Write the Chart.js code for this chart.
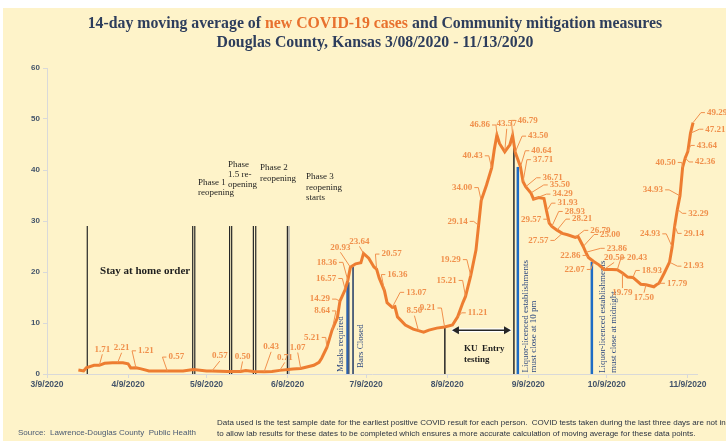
<!DOCTYPE html>
<html lang="en">
    <head>
        <meta charset="utf-8">
        <title> Douglas County COVID-19 14-day average </title>
        <script src="https://cdn.jsdelivr.net/npm/chart.js"></script>
        <style>
            * { box-sizing: border-box; }
            body {
                margin: 0;
                background: #ffffff;
            }
            #wrap {
                position: relative;
                width: 726px;
                height: 441px;
                overflow: hidden;
                background: #ffffff;
            }
            .panel {
                position: absolute;
                left: 3px; top: 8px; right: 0; bottom: 0;
                background: #fef3c9;
            }
            #chart {
                position: absolute;
                left: 0; top: 0;
            }
            .title {
                position: absolute;
                top: 13px; left: 12px;
                width: 726px;
                text-align: center;
                font: bold 15.8px "Liberation Serif", serif;
                line-height: 19px;
                color: #2d3d5c;
            }
            .title span { color: #e8712e; }
            .source {
                position: absolute;
                left: 18px; top: 428px;
                font: 8px "Liberation Sans", sans-serif;
                color: #4a5a72;
                white-space: nowrap;
            }
            .note {
                position: absolute;
                left: 217px; top: 417px;
                font: 8px "Liberation Sans", sans-serif;
                line-height: 11px;
                color: #2b3340;
                white-space: nowrap;
            }
        </style>
    </head>

    <body>
        <div id="wrap">
            <div class="panel"></div>
            <canvas id="chart" width="726" height="441"></canvas>
            <div class="title">14-day moving average of <span>new COVID-19 cases</span> and Community mitigation measures<br>Douglas County, Kansas 3/08/2020 - 11/13/2020</div>
            <div class="source">Source:&nbsp; Lawrence-Douglas County&nbsp; Public Health</div>
            <div class="note">Data used is the test sample date for the earliest positive COVID result for each person.&nbsp; COVID tests taken during the last three days are not included<br>to allow lab results for these dates to be completed which ensures a more accurate calculation of moving average for these data points.</div>
        </div>

        <script>
            // x axis = days since 3/9/2020
            const tickDays = [0, 31, 61, 92, 122, 153, 184, 214, 245];
            const tickLabels = ['3/9/2020', '4/9/2020', '5/9/2020', '6/9/2020', '7/9/2020', '8/9/2020', '9/9/2020', '10/9/2020', '11/9/2020'];

            // 14-day moving average of new cases
            const dayOffsets = [12, 14, 15, 18, 20, 22, 25, 27, 29, 31,
                32, 34, 36, 39, 46, 52, 56, 61, 63, 69,
                74, 76, 79, 83, 86, 89, 94, 97, 102, 104,
                105, 107, 109, 111, 112, 114, 115, 116, 118, 120,
                121, 123, 125, 126, 127, 129, 130, 132, 133, 134,
                137, 140, 142, 144, 146, 149, 152, 155, 157, 159,
                160, 162, 164, 165, 166, 168, 170, 171, 172, 173,
                175, 177, 178, 179, 181, 182, 183, 185, 186, 188,
                190, 191, 192, 193, 195, 197, 199, 202, 203, 205,
                206, 207, 209, 211, 213, 216, 218, 220, 222, 224,
                227, 229, 232, 233, 234, 236, 238, 239, 240, 241,
                242, 243, 244, 245, 246, 247];
            const avgCases = [0.8, 0.6, 1.2, 1.7, 1.71, 2.1, 2.2, 2.21, 2.2, 2.0,
                1.2, 1.21, 1.0, 0.6, 0.57, 0.6, 0.9, 0.6, 0.57, 0.5,
                0.50, 0.7, 0.5, 0.43, 0.5, 0.71, 1.0, 1.07, 1.7, 2.3,
                3.1, 5.21, 8.64, 11.0, 14.29, 16.57, 18.36, 20.93, 21.6, 21.8,
                23.64, 22.7, 21.0, 20.57, 18.8, 16.36, 14.0, 13.07, 13.2, 11.2,
                9.6, 8.8, 8.50, 8.2, 8.6, 9.0, 9.21, 9.6, 11.21, 14.0,
                15.21, 19.29, 24.3, 29.14, 34.00, 37.0, 40.43, 44.0, 46.86, 45.2,
                43.57, 45.0, 46.79, 43.50, 40.64, 37.71, 36.71, 35.50, 34.29, 34.6,
                34.4, 31.93, 29.57, 28.93, 28.21, 27.57, 27.3, 26.79, 27.0, 25.00,
                23.86, 22.86, 22.07, 21.4, 20.50, 20.5, 20.43, 19.79, 19.0, 18.93,
                17.6, 17.50, 17.1, 17.5, 17.79, 19.8, 21.93, 24.93, 29.14, 32.29,
                34.93, 40.50, 42.36, 43.64, 47.21, 49.29];

            // which points get a value label: [day, text dx, text dy]
            const valueLabels = [
                [20, 3, -16], [27, 4, -15], [34, 10, -17], [46, 9, -14], [63, 8, -15], [74, 2, -15],
                [83, 7, -25], [89, 5, -13], [97, -3, -21], [107, -15, -10], [109, -10, -19], [112, -20, -2],
                [114, -19, -11], [115, -21, -18], [116, -10, -20], [121, -4, -12], [126, 15, -15], [129, 13, -16],
                [132, 24, -15], [142, -4, -20], [152, -17, -19], [157, 20, -4], [160, -19, -16], [162, -20, -16],
                [165, -21, -4], [166, -19, -13], [170, -19, -12], [172, -17, -10], [175, 2, -28], [178, 15, -15],
                [179, 23, -16], [181, 21, -16], [182, 20, -22], [183, 27, -9], [185, 29, -8], [186, 29, -5],
                [191, 21, -8], [192, -18, -4], [193, 23, -15], [195, 25, -11], [197, -24, 7], [202, 25, -7],
                [205, 27, -12], [206, 31, -4], [207, -18, -2], [209, -19, 8], [213, 10, -12], [218, 20, -12],
                [220, 0, 20], [224, 19, -7], [229, -2, 13], [234, 18, 0], [238, 24, 4], [239, -22, -13],
                [240, 19, 8], [241, 21, 4], [242, -27, -6], [243, -17, -5], [244, 20, 4], [245, 19, -6],
                [246, 25, -4], [247, 24, -10]
            ];

            // mitigation measure markers: [day, top value, colour, width]
            const eventLines = [
                [15.4, 29, '#262626', 1.2],
                [55.7, 29, '#262626', 1.2], [56.5, 29, '#262626', 1.2],
                [69.8, 29, '#262626', 1.2], [70.6, 29, '#262626', 1.2],
                [78.9, 29, '#262626', 1.2], [79.8, 29, '#262626', 1.2],
                [91.9, 29, '#262626', 1.2], [92.5, 29, '#a6a6a6', 1.5],
                [114.8, 17.5, '#2a62b0', 2], [115.4, 18, '#1f3864', 1.2], [117.0, 21, '#1f3864', 1.5],
                [152.1, 9.2, '#262626', 1.5],
                [178.5, 45, '#262626', 1.5], [180.0, 40.6, '#1f6cc4', 2.5],
                [208.3, 22, '#1f6cc4', 2.5]
            ];

            // [text, day, value, align, bold, size]
            const notes = [
                ['Stay at home order', 37.5, 20.2, 'center', true, 11],
                ['Phase 1', 57.7, 37.5, 'left', false, 9], ['reopening', 57.7, 35.5, 'left', false, 9],
                ['Phase', 69.2, 41.0, 'left', false, 9], ['1.5 re-', 69.2, 39.0, 'left', false, 9], ['opening', 69.2, 37.1, 'left', false, 9],
                ['Phase 2', 81.4, 40.4, 'left', false, 9], ['reopening', 81.4, 38.4, 'left', false, 9],
                ['Phase 3', 99.0, 38.6, 'left', false, 9], ['reopening', 99.0, 36.6, 'left', false, 9], ['starts', 99.0, 34.6, 'left', false, 9],
                ['KU  Entry', 159.4, 4.9, 'left', true, 9], ['testing', 159.4, 2.8, 'left', true, 9]
            ];

            // rotated notes: [text, day, bottom value]
            const sideNotes = [
                ['Masks required', 112.4, 0.4],
                ['Bars Closed', 120.0, 1.2],
                ['Liquor-licenced establishments', 183.1, 0.3],
                ['must close at 10 pm', 186.2, 0.3],
                ['Liquor-licenced establishments', 212.5, 0.2],
                ['must close at midnight', 216.7, 0.2]
            ];

            // KU entry testing window
            const kuArrow = [154.8, 177.4, 8.6];

            const points = dayOffsets.map((d, i) => ({ x: d, y: avgCases[i] }));

            const annotate = {
                id: 'annotate',
                beforeDatasetsDraw(chart) {
                    const ctx = chart.ctx;
                    const xs = chart.scales.x, ys = chart.scales.y;
                    ctx.save();
                    eventLines.forEach(([d, top, col, w]) => {
                        const x = xs.getPixelForValue(d);
                        ctx.strokeStyle = col;
                        ctx.lineWidth = w;
                        ctx.beginPath();
                        ctx.moveTo(x, ys.getPixelForValue(0));
                        ctx.lineTo(x, ys.getPixelForValue(top));
                        ctx.stroke();
                    });

                    // double headed arrow
                    const ax0 = xs.getPixelForValue(kuArrow[0]), ax1 = xs.getPixelForValue(kuArrow[1]);
                    const ay = ys.getPixelForValue(kuArrow[2]);
                    ctx.strokeStyle = '#ffffff';
                    ctx.lineWidth = 4;
                    ctx.beginPath(); ctx.moveTo(ax0, ay); ctx.lineTo(ax1, ay); ctx.stroke();
                    ctx.strokeStyle = '#262626';
                    ctx.lineWidth = 1.5;
                    ctx.beginPath(); ctx.moveTo(ax0 + 3, ay); ctx.lineTo(ax1 - 3, ay); ctx.stroke();
                    ctx.fillStyle = '#262626';
                    ctx.beginPath(); ctx.moveTo(ax0, ay); ctx.lineTo(ax0 + 7, ay - 4); ctx.lineTo(ax0 + 7, ay + 4); ctx.fill();
                    ctx.beginPath(); ctx.moveTo(ax1, ay); ctx.lineTo(ax1 - 7, ay - 4); ctx.lineTo(ax1 - 7, ay + 4); ctx.fill();

                    ctx.textBaseline = 'middle';
                    ctx.fillStyle = '#1e1e1e';
                    notes.forEach(([t, d, v, al, b, sz]) => {
                        ctx.font = (b ? 'bold ' : '') + sz + 'px "Liberation Serif", serif';
                        ctx.textAlign = al;
                        ctx.fillText(t, xs.getPixelForValue(d), ys.getPixelForValue(v));
                    });

                    ctx.fillStyle = '#2f4a80';
                    ctx.font = '9px "Liberation Serif", serif';
                    ctx.textAlign = 'left';
                    sideNotes.forEach(([t, d, v]) => {
                        ctx.save();
                        ctx.translate(xs.getPixelForValue(d), ys.getPixelForValue(v));
                        ctx.rotate(-Math.PI / 2);
                        ctx.fillText(t, 0, 0);
                        ctx.restore();
                    });
                    ctx.restore();
                },
                afterDatasetsDraw(chart) {
                    const ctx = chart.ctx;
                    const xs = chart.scales.x, ys = chart.scales.y;
                    ctx.save();
                    ctx.font = 'bold 9px "Liberation Serif", serif';
                    ctx.textAlign = 'center';
                    ctx.textBaseline = 'middle';
                    ctx.strokeStyle = '#f0904c';
                    ctx.fillStyle = '#f0904c';
                    ctx.lineWidth = 1;
                    valueLabels.forEach(([d, dx, dy]) => {
                        const v = avgCases[dayOffsets.indexOf(d)];
                        const t = v.toFixed(2);
                        const px = xs.getPixelForValue(d), py = ys.getPixelForValue(v);
                        const cx = px + dx, cy = py + dy;
                        const w = ctx.measureText(t).width;
                        ctx.fillText(t, cx, cy);
                        if (Math.hypot(dx, dy) < 9) return;
                        ctx.beginPath();
                        if (Math.abs(dx) > w / 2 + 1) {
                            const s = Math.sign(dx);
                            const ex = cx - s * (w / 2 + 2);
                            ctx.moveTo(ex, cy);
                            ctx.lineTo(ex - s * 4, cy);
                            ctx.lineTo(px, py);
                        } else {
                            const s = Math.sign(dy);
                            ctx.moveTo(cx, cy - s * 5);
                            ctx.lineTo(px, py);
                        }
                        ctx.stroke();
                    });
                    ctx.restore();
                }
            };

            const chart = new Chart(document.getElementById('chart'), {
                type: 'line',
                data: {
                    datasets: [{
                        data: points,
                        borderColor: '#ed7d31',
                        borderWidth: 3,
                        pointRadius: 0,
                        tension: 0,
                        fill: false
                    }]
                },
                options: {
                    responsive: false,
                    animation: false,
                    layout: { padding: { top: 68, right: 29, left: 0, bottom: 0 } },
                    plugins: {
                        legend: { display: false },
                        tooltip: { enabled: false }
                    },
                    scales: {
                        x: {
                            type: 'linear',
                            min: 0,
                            max: 248.5,
                            afterBuildTicks: s => { s.ticks = tickDays.map(v => ({ value: v })); },
                            afterFit: s => { s.height = 67; },
                            border: { color: '#d9d9d9' },
                            grid: { drawOnChartArea: false, color: '#d9d9d9', tickLength: 4 },
                            ticks: {
                                autoSkip: false,
                                maxRotation: 0,
                                padding: 2,
                                color: '#44546a',
                                font: { family: 'Liberation Sans', size: 8.5, weight: 'bold' },
                                callback: v => tickLabels[tickDays.indexOf(v)]
                            }
                        },
                        y: {
                            min: 0,
                            max: 60,
                            afterFit: s => { s.width = 47; },
                            border: { color: '#d9d9d9' },
                            grid: { drawOnChartArea: false, color: '#d9d9d9', tickLength: 4 },
                            ticks: {
                                stepSize: 10,
                                padding: 3,
                                color: '#44546a',
                                font: { family: 'Liberation Sans', size: 8, weight: 'bold' }
                            }
                        }
                    }
                },
                plugins: [annotate]
            });
        </script>
    </body>
</html>
